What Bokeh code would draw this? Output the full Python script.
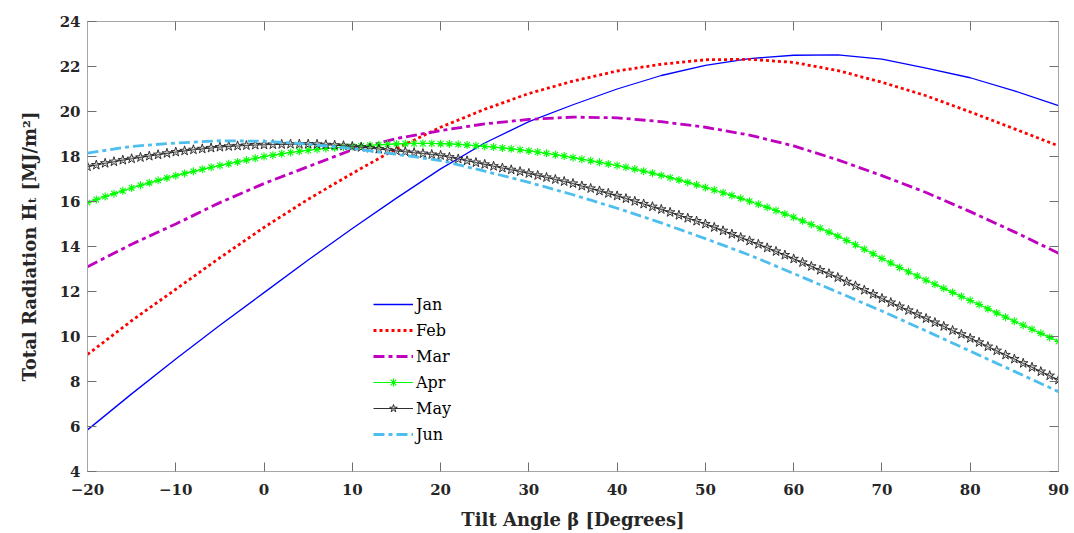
from bokeh.plotting import figure
from bokeh.models import (Range1d, FixedTicker, LinearAxis, CustomJSTickFormatter,
                          Legend, LegendItem)
from bokeh.embed import file_html
from bokeh.resources import INLINE

# ---------------- data ----------------
angles_5 = list(range(-20, 95, 5))      # tilt angles, 5 degree steps
angles_1 = list(range(-20, 91))         # tilt angles, 1 degree steps

jan = [5.85, 7.45, 9.0, 10.5, 11.95, 13.4, 14.8, 16.15, 17.45, 18.6, 19.55, 20.3,
       21.0, 21.6, 22.05, 22.35, 22.5, 22.52, 22.33, 21.93, 21.5, 20.92, 20.26]
feb = [9.2, 10.7, 12.1, 13.5, 14.85, 16.1, 17.25, 18.35, 19.3, 20.1, 20.8, 21.35,
       21.8, 22.1, 22.3, 22.32, 22.18, 21.82, 21.3, 20.7, 19.98, 19.23, 18.47]
mar = [13.1, 14.1, 15.0, 15.95, 16.8, 17.55, 18.3, 18.8, 19.15, 19.45, 19.65, 19.75,
       19.72, 19.55, 19.3, 18.95, 18.47, 17.85, 17.15, 16.4, 15.55, 14.65, 13.7]
jun = [18.15, 18.45, 18.6, 18.7, 18.68, 18.55, 18.35, 18.1, 17.82, 17.35, 16.85, 16.3,
       15.7, 15.05, 14.35, 13.62, 12.8, 11.97, 11.13, 10.25, 9.35, 8.45, 7.55]
apr = [15.95, 16.09, 16.22, 16.35, 16.48, 16.60, 16.72, 16.83, 16.94, 17.05,
       17.15, 17.25, 17.34, 17.43, 17.52, 17.60, 17.68, 17.76, 17.84, 17.92,
       18.00, 18.06, 18.12, 18.18, 18.23, 18.28, 18.32, 18.36, 18.39, 18.42,
       18.45, 18.47, 18.50, 18.52, 18.54, 18.56, 18.57, 18.58, 18.58, 18.58,
       18.57, 18.56, 18.54, 18.51, 18.48, 18.45, 18.42, 18.38, 18.34, 18.30,
       18.25, 18.20, 18.14, 18.08, 18.02, 17.95, 17.88, 17.81, 17.74, 17.67,
       17.60, 17.52, 17.44, 17.35, 17.26, 17.16, 17.06, 16.96, 16.85, 16.74,
       16.62, 16.51, 16.39, 16.27, 16.14, 16.01, 15.88, 15.74, 15.60, 15.45,
       15.30, 15.14, 14.98, 14.81, 14.64, 14.46, 14.27, 14.08, 13.88, 13.68,
       13.47, 13.27, 13.07, 12.88, 12.69, 12.50, 12.32, 12.14, 11.96, 11.78,
       11.60, 11.42, 11.23, 11.05, 10.86, 10.68, 10.50, 10.32, 10.14, 9.96,
       9.78]
may = [17.55, 17.62, 17.70, 17.77, 17.84, 17.90, 17.96, 18.02, 18.08, 18.14,
       18.20, 18.25, 18.30, 18.34, 18.38, 18.42, 18.45, 18.47, 18.49, 18.51,
       18.52, 18.53, 18.54, 18.55, 18.55, 18.55, 18.54, 18.52, 18.50, 18.48,
       18.45, 18.41, 18.37, 18.33, 18.29, 18.25, 18.21, 18.17, 18.13, 18.09,
       18.05, 17.97, 17.89, 17.81, 17.73, 17.65, 17.57, 17.49, 17.41, 17.33,
       17.25, 17.16, 17.07, 16.98, 16.89, 16.80, 16.69, 16.58, 16.47, 16.36,
       16.25, 16.13, 16.01, 15.89, 15.77, 15.65, 15.52, 15.39, 15.26, 15.13,
       15.00, 14.85, 14.70, 14.55, 14.40, 14.25, 14.10, 13.94, 13.78, 13.62,
       13.45, 13.29, 13.12, 12.95, 12.79, 12.62, 12.43, 12.25, 12.06, 11.88,
       11.69, 11.51, 11.33, 11.16, 10.98, 10.80, 10.62, 10.45, 10.27, 10.10,
       9.92, 9.74, 9.55, 9.37, 9.18, 9.00, 8.81, 8.63, 8.44, 8.26,
       8.07]

x_ticks = [-20, -10, 0, 10, 20, 30, 40, 50, 60, 70, 80, 90]
y_ticks = [4, 6, 8, 10, 12, 14, 16, 18, 20, 22, 24]

# ---------------- figure ----------------
p = figure(width=1074, height=533, output_backend="svg", toolbar_location=None,
           x_range=Range1d(-20, 90), y_range=Range1d(4, 24),
           x_axis_location=None, y_axis_location=None,
           min_border_left=87, min_border_right=16, min_border_top=21,
           min_border_bottom=62)
p.xgrid.visible = False
p.ygrid.visible = False
p.outline_line_color = "#a6a6a6"
p.background_fill_color = "white"
p.border_fill_color = "white"

FONT = "DejaVu Serif"
minus_fmt = CustomJSTickFormatter(code="return tick < 0 ? '\u2212' + Math.abs(tick) : String(tick);")
blank_fmt = CustomJSTickFormatter(code="return '';")


def style_axis(ax, show_labels):
    ax.axis_line_color = "#a6a6a6"
    ax.major_tick_line_color = "#707070"
    ax.major_tick_in = 9
    ax.major_tick_out = 0
    ax.minor_tick_line_color = None
    ax.major_label_text_font = FONT
    ax.major_label_text_font_style = "bold"
    ax.major_label_text_font_size = "15px"
    ax.major_label_text_color = "#262626"
    ax.axis_label_text_font = FONT
    ax.axis_label_text_font_style = "bold"
    ax.axis_label_text_font_size = "18px"
    ax.axis_label_text_color = "#262626"
    if not show_labels:
        ax.formatter = blank_fmt
        ax.major_label_standoff = 0


xb = LinearAxis(ticker=FixedTicker(ticks=x_ticks), formatter=minus_fmt,
                axis_label="Tilt Angle β [Degrees]")
style_axis(xb, True)
xb.major_label_standoff = 12
xb.axis_label_standoff = 11
p.add_layout(xb, "below")

xt = LinearAxis(ticker=FixedTicker(ticks=x_ticks))
style_axis(xt, False)
p.add_layout(xt, "above")

yl = LinearAxis(ticker=FixedTicker(ticks=y_ticks), formatter=minus_fmt,
                axis_label="Total Radiation Hₜ [MJ/m²]")
style_axis(yl, True)
yl.major_label_standoff = 7
yl.axis_label_standoff = 17
p.add_layout(yl, "left")

yr = LinearAxis(ticker=FixedTicker(ticks=y_ticks))
style_axis(yr, False)
p.add_layout(yr, "right")

# ---------------- series ----------------
r_jan = p.line(angles_5, jan, line_color="#0000ff", line_width=1.3)
r_feb = p.line(angles_5, feb, line_color="#ff0000", line_width=2.8,
               line_dash="3 3")
r_mar = p.line(angles_5, mar, line_color="#bf00bf", line_width=2.8,
               line_dash="11 4 4 4")
r_apr_l = p.line(angles_1, apr, line_color="#00ff00", line_width=1.2)
r_apr_m = p.scatter(angles_1, apr, marker="asterisk", size=8,
                    line_color="#00ff00", line_width=1.1)
r_may_l = p.line(angles_1, may, line_color="#303030", line_width=1.1)
r_may_m = p.scatter(angles_1, may, marker="star", size=10,
                    line_color="#202020", line_width=0.9,
                    fill_color="#a0a0a0", fill_alpha=0.35)
r_jun = p.line(angles_5, jun, line_color="#4dbeee", line_width=2.8,
               line_dash="11 4 4 4")

legend = Legend(items=[
    LegendItem(label="Jan", renderers=[r_jan]),
    LegendItem(label="Feb", renderers=[r_feb]),
    LegendItem(label="Mar", renderers=[r_mar]),
    LegendItem(label="Apr", renderers=[r_apr_l, r_apr_m]),
    LegendItem(label="May", renderers=[r_may_l, r_may_m]),
    LegendItem(label="Jun", renderers=[r_jun]),
], location=(286, 27))
legend.glyph_width = 40
legend.glyph_height = 20
legend.label_height = 20
legend.spacing = 6
legend.padding = 0
legend.margin = 0
legend.label_standoff = 3
legend.background_fill_alpha = 0
legend.border_line_alpha = 0
legend.label_text_font = FONT
legend.label_text_font_size = "16px"
legend.label_text_color = "#000000"
p.add_layout(legend, "center")

open("out.html", "w").write(file_html(p, INLINE))
